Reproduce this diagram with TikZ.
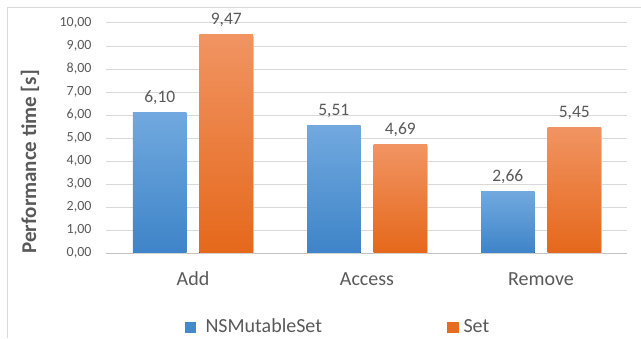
\documentclass[tikz,border=0pt]{standalone}
\usepackage{fontspec}
\setmainfont{Carlito}
\usetikzlibrary{calc, positioning, shadings}
\definecolor{grd}{HTML}{D9D9D9}
\definecolor{txt}{HTML}{595959}
\definecolor{b1}{HTML}{71A9DF}
\definecolor{b2}{HTML}{3E84C8}
\definecolor{o1}{HTML}{F19462}
\definecolor{o2}{HTML}{E5681B}

\begin{document}
\begin{tikzpicture}[x=1pt, y=1pt,
    bluebar/.style={top color=b1, bottom color=b2,
        preaction={fill=black!18, transform canvas={xshift=0.8pt, yshift=-0.8pt}}},
    orangebar/.style={top color=o1, bottom color=o2,
        preaction={fill=black!18, transform canvas={xshift=0.8pt, yshift=-0.8pt}}},
    valtext/.style={text=txt, anchor=base, font=\fontsize{17.5}{20}\selectfont},
    cattext/.style={text=txt, anchor=base, font=\fontsize{20}{24}\selectfont},
    ticktext/.style={text=txt, anchor=east, font=\fontsize{14}{16}\selectfont},
    legtext/.style={text=txt, anchor=base west, font=\fontsize{20}{24}\selectfont}]
				\useasboundingbox (-106, -85.3) rectangle (535, 252.7);
				
				% frame
				\draw[draw=grd, thick] (-98.5, -85.3) -- (-98.5, 245.2) -- (535, 245.2);
				
				% grid and ticks
				\foreach \v in {1,...,10}
					\draw[draw=grd, thin] (0, 23*\v) -- (521, 23*\v);
				\draw[draw=grd!90!black, thin] (0, 0) -- (521, 0);
				\foreach \v in {0,...,10}
					\node[ticktext] (tick\v) at (-11, 23*\v) {\v,00};
				
				\node[text=txt, rotate=90, font=\fontsize{21}{24}\selectfont\bfseries] (ylab) at (-76, 91) {Performance time [s]};
				
				% bars
				\fill[bluebar] (27, 0) rectangle (80.5, 23*6.10);
				\fill[orangebar] (93.5, 0) rectangle (147, 23*9.47);
				\fill[bluebar] (201, 0) rectangle (254.5, 23*5.51);
				\fill[orangebar] (267.5, 0) rectangle (321, 23*4.69);
				\fill[bluebar] (375, 0) rectangle (428.5, 23*2.66);
				\fill[orangebar] (441.5, 0) rectangle (495, 23*5.45);
				
				% values
				\node[valtext] (addns) at (53.75, 23*6.10+10) {6,10};
				\node[valtext] (addset) at (120.25, 23*9.47+10) {9,47};
				\node[valtext] (accns) at (227.75, 23*5.51+10) {5,51};
				\node[valtext] (accset) at (294.25, 23*4.69+10) {4,69};
				\node[valtext] (remns) at (401.75, 23*2.66+10) {2,66};
				\node[valtext] (remset) at (468.25, 23*5.45+10) {5,45};
				
				% categories
				\node[cattext] (add) at (87, -33) {Add};
				\node[cattext] (access) at (261, -33) {Access};
				\node[cattext] (remove) at (435, -33) {Remove};
				
				% legend
				\fill[b2!85!b1] (79, -80.6) rectangle (90.5, -69);
				\node[legtext] (legns) at (96, -80) {NSMutableSet};
				\fill[o2!90!o1] (341, -80.6) rectangle (352.5, -69);
				\node[legtext] (legset) at (354, -80) {Set};
			\end{tikzpicture}
\end{document}
